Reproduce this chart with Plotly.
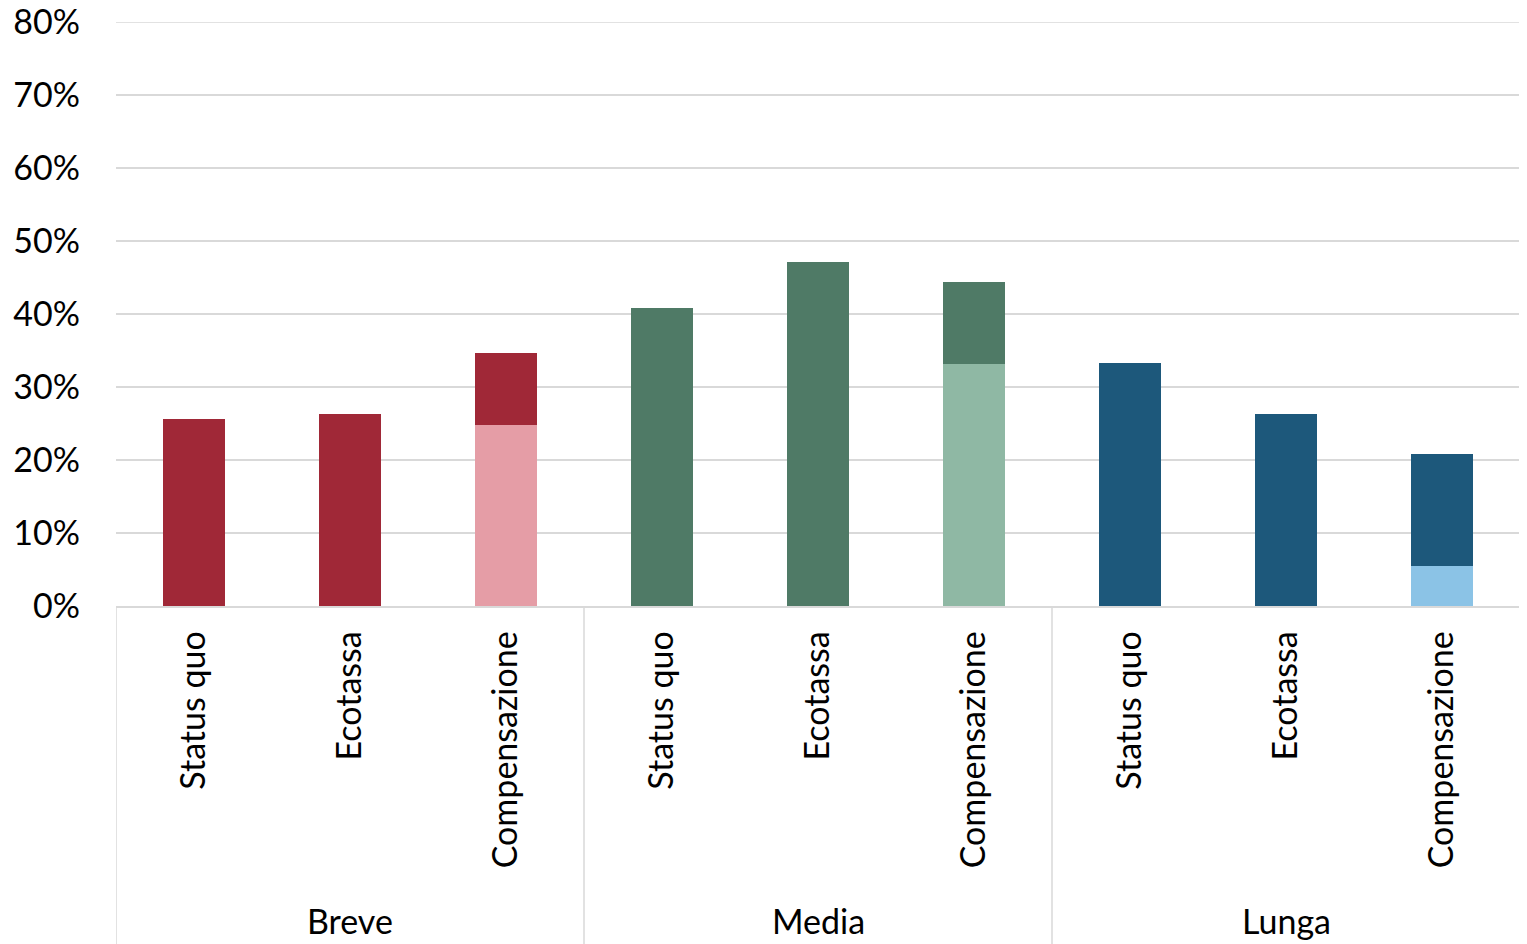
import plotly.graph_objects as go

groups = ["Breve", "Media", "Lunga"]
scenarios = ["Status quo", "Ecotassa", "Compensazione"]
# lower (light) segment and upper (dark) segment, in %
light_vals = [0, 0, 24.8, 0, 0, 33.2, 0, 0, 5.5]
dark_vals = [25.6, 26.3, 9.9, 40.8, 47.1, 11.2, 33.3, 26.3, 15.3]
dark_colors = ["#A02837"] * 3 + ["#4F7A66"] * 3 + ["#1D587B"] * 3
light_colors = ["#E59DA6"] * 3 + ["#8FB8A4"] * 3 + ["#8BC3E6"] * 3
yticks = [0, 10, 20, 30, 40, 50, 60, 70, 80]
ytick_text = [f"{v}%" for v in yticks]

FONT = "Lato"
FS = 34

labels = [s for g in groups for s in scenarios]
xpos = list(range(len(labels)))

fig = go.Figure()
fig.add_trace(go.Bar(x=xpos, y=light_vals, marker=dict(color=light_colors, line=dict(width=0)),
                     width=0.4, showlegend=False, hoverinfo="skip"))
fig.add_trace(go.Bar(x=xpos, y=dark_vals, marker=dict(color=dark_colors, line=dict(width=0)),
                     width=0.4, showlegend=False, hoverinfo="skip"))

# group separator lines
for b in [-0.5, 2.5, 5.5, 8.5]:
    fig.add_shape(type="line", xref="x", yref="paper", x0=b, x1=b, y0=0, y1=-0.62,
                  line=dict(color="#D9D9D9", width=1.5), layer="below")

# top gridline (plotly skips the grid line at the range edge)
fig.add_shape(type="line", xref="paper", yref="y", x0=0, x1=1, y0=yticks[-1], y1=yticks[-1],
              line=dict(color="#D9D9D9", width=1.5), layer="below")

for i, g in enumerate(groups):
    fig.add_annotation(x=i * 3 + 1, xref="x", y=-0.539, yref="paper", text=g, showarrow=False,
                       font=dict(family=FONT, size=FS, color="black"), yanchor="middle")

fig.update_layout(
    barmode="stack",
    width=1527, height=944,
    margin=dict(l=108, r=15, t=14, b=346),
    plot_bgcolor="white", paper_bgcolor="white",
    font=dict(family=FONT, size=FS, color="black"),
    xaxis=dict(range=[-0.5, 8.5], tickvals=xpos, ticktext=labels, tickangle=-90, automargin=False,
               showgrid=False, zeroline=False, showline=True, linecolor="#D9D9D9", linewidth=1.5,
               ticks="", ticklabelstandoff=10, tickfont=dict(family=FONT, size=FS, color="black")),
    yaxis=dict(range=[0, 80], tickvals=yticks, ticktext=ytick_text, showgrid=True, gridcolor="#D9D9D9",
               gridwidth=1.5, zeroline=False, showline=False, ticks="", ticklabelstandoff=35,
               ticklabeloverflow="allow", automargin=False,
               tickfont=dict(family=FONT, size=FS, color="black")),
)

fig.write_html("out.html")
